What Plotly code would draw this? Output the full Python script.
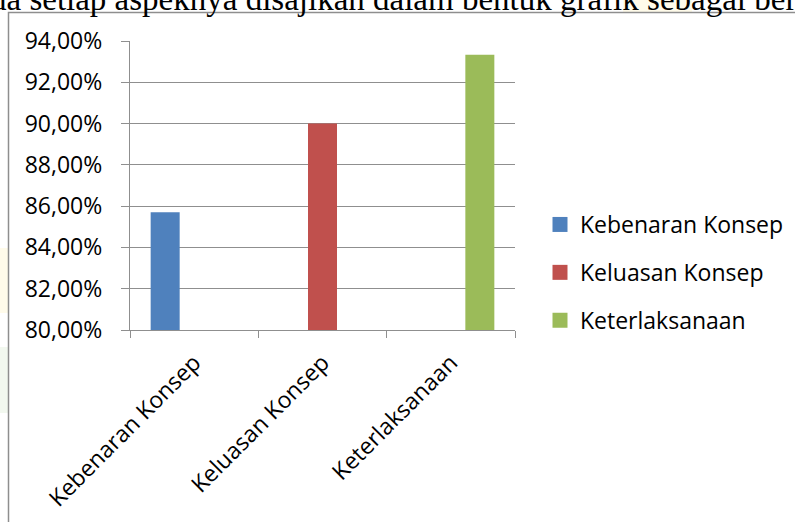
import plotly.graph_objects as go

# Aspek penilaian dan persentase skor
categories = ["Kebenaran Konsep", "Keluasan Konsep", "Keterlaksanaan"]
series_names = ["Kebenaran Konsep", "Keluasan Konsep", "Keterlaksanaan"]
series_values = [85.71, 90.00, 93.33]
series_colors = ["#4F81BD", "#C0504D", "#9BBB59"]
y_ticks = [80, 82, 84, 86, 88, 90, 92, 94]
y_tick_labels = [f"{v:.2f}".replace(".", ",") + "%" for v in y_ticks]

body_text = "da setiap aspeknya disajikan dalam bentuk grafik sebagai berikut:"

W, H = 795, 522
L, R, T, B = 130, 280, 41, 192
PW, PH = W - L - R, H - T - B


def px_x(px):
    return (px - L) / PW


def px_y(py):
    return (H - B - py) / PH


font_family = "Open Sans, Noto Sans, Liberation Sans, sans-serif"
fsize = 23
grid = "#8f8f8f"

fig = go.Figure()

# one series per aspect; each only has a value in its own category
for i, (name, color) in enumerate(zip(series_names, series_colors)):
    ys = [None] * len(categories)
    ys[i] = series_values[i]
    fig.add_trace(go.Bar(
        x=categories, y=ys, name=name,
        marker=dict(color=color, line=dict(width=0)),
        showlegend=False,
    ))
    # legend entry with a larger square swatch
    fig.add_trace(go.Scatter(
        x=[None], y=[None], mode="markers", name=name,
        marker=dict(symbol="square", size=15, color=color),
        legendgroup=name, showlegend=True,
    ))

fig.update_layout(
    width=W, height=H,
    margin=dict(l=L, r=R, t=T, b=B, pad=0, autoexpand=False),
    paper_bgcolor="white",
    plot_bgcolor="white",
    barmode="group",
    bargap=0.322,
    bargroupgap=0,
    font=dict(family=font_family, size=fsize, color="#000000"),
    showlegend=True,
    legend=dict(
        x=px_x(540), y=px_y(203), xanchor="left", yanchor="top",
        font=dict(family=font_family, size=fsize, color="#000000"),
        tracegroupgap=15, bgcolor="rgba(0,0,0,0)",
        itemsizing="trace",
    ),
    xaxis=dict(
        type="category",
        tickson="boundaries",
        ticks="outside", ticklen=7, tickwidth=1.3, tickcolor=grid,
        showline=True, linecolor=grid, linewidth=1.3,
        showgrid=False,
        tickangle=-45,
        tickfont=dict(family=font_family, size=fsize, color="#000000"),
        ticklabelstandoff=9,
        automargin=False,
        fixedrange=True,
    ),
    yaxis=dict(
        range=[80, 94],
        tickmode="array",
        tickvals=y_ticks,
        ticktext=y_tick_labels,
        ticks="outside", ticklen=8, tickwidth=1.3, tickcolor=grid,
        showline=True, linecolor=grid, linewidth=1.3,
        showgrid=True, gridcolor=grid, gridwidth=1.3,
        zeroline=False,
        tickfont=dict(family=font_family, size=fsize, color="#000000"),
        ticklabelstandoff=14,
        automargin=False,
        fixedrange=True,
    ),
    shapes=[
        # faint page tints outside the chart frame
        dict(type="rect", xref="paper", yref="paper", layer="below",
             x0=px_x(0), x1=px_x(8), y0=px_y(313), y1=px_y(248),
             fillcolor="#FFFBEA", line=dict(width=0)),
        dict(type="rect", xref="paper", yref="paper", layer="below",
             x0=px_x(0), x1=px_x(8), y0=px_y(413), y1=px_y(347),
             fillcolor="#F2F8EF", line=dict(width=0)),
        dict(type="rect", xref="paper", yref="paper", layer="below",
             x0=px_x(623), x1=px_x(692), y0=px_y(12), y1=px_y(0),
             fillcolor="#FFFBEA", line=dict(width=0)),
        # chart frame
        dict(type="rect", xref="paper", yref="paper", layer="above",
             x0=px_x(8.5), x1=px_x(820), y0=px_y(540), y1=px_y(12.5),
             line=dict(color="#8e8e8e", width=1.5), fillcolor="rgba(0,0,0,0)"),
    ],
    annotations=[
        dict(text=body_text, xref="paper", yref="paper",
             x=px_x(-12), y=px_y(19), xanchor="left", yanchor="bottom",
             showarrow=False,
             font=dict(family="Liberation Serif, Times New Roman, serif", size=33, color="#000000")),
    ],
)

fig.write_html("out.html")
